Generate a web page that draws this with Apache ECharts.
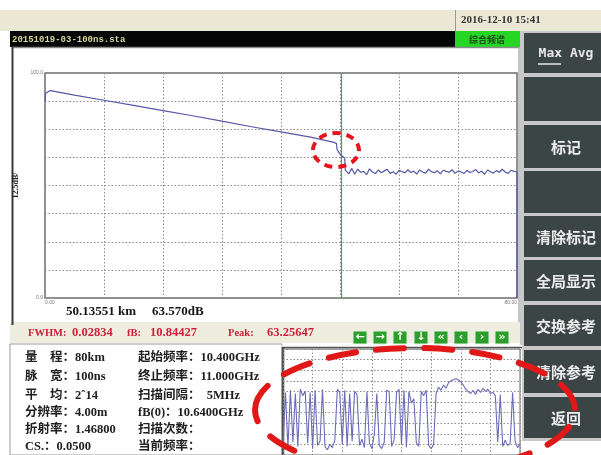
<!DOCTYPE html>
<html><head><meta charset="utf-8">
<script src="https://cdn.jsdelivr.net/npm/echarts/dist/echarts.min.js"></script>
<style>html,body{margin:0;padding:0;background:#fff}#c{width:601px;height:455px}</style>
</head><body><div id="c"></div><script>
// ---- main OTDR-like trace: distance (km) vs level (dB) ----
const traceKm = [0, 0.1, 0.9, 5, 10, 15, 20, 25, 30, 35, 40, 45, 48.8, 49.4, 49.5, 50.1, 50.8, 50.9,
  51, 51.5, 52, 52.5, 53, 53.5, 54, 54.5, 55, 55.5, 56, 56.5, 57, 57.5, 58, 58.5, 59, 59.5,
  60, 60.5, 61, 61.5, 62, 62.5, 63, 63.5, 64, 64.5, 65, 65.5, 66, 66.5, 67, 67.5, 68, 68.5, 69, 69.5,
  70, 70.5, 71, 71.5, 72, 72.5, 73, 73.5, 74, 74.5, 75, 75.5, 76, 76.5, 77, 77.5, 78, 78.5, 79, 79.5,
  80, 80];
const traceDb = [87.5, 91.0, 92.2, 90.2, 87.9, 85.6, 83.3, 81.0, 78.6, 76.1, 73.8, 71.5, 69.3, 68.7, 66.0, 63.6, 62.2, 56.8,
  56.4, 55.2, 57.6, 55.0, 57.3, 55.9, 56.3, 54.8, 57.4, 56.0,
  55.3, 56.9, 55.7, 56.5, 57.2, 55.4, 56.1, 55.0, 56.7, 56.2,
  55.6, 57.0, 55.8, 56.4, 55.1, 56.9, 56.0, 55.5, 57.3, 56.1,
  55.7, 56.6, 55.2, 56.8, 56.3, 55.9, 57.0, 55.4, 56.5, 56.0,
  55.3, 56.7, 55.8, 56.2, 57.1, 55.6, 56.4, 55.0, 56.9, 56.1,
  55.5, 56.6, 55.9, 57.2, 56.0, 55.4, 56.8, 56.3,
  56.1, 0];
const cursorKm = 50.13551;
const xTickLabels = ['0.00', '80.00'];
const yTickLabels = ['0.0', '100.0'];
const yAxisName = '12.5dB/';

// ---- mini spectrum panel (sample index vs level, divisions) ----
const miniValues = [
  1.0, 5.9, 0.7, 6.1, 1.2, 5.8, 0.8, 6.2, 5.6, 6.0,
  1.1, 5.9, 0.6, 6.1, 0.9, 1.3, 6.2, 0.8, 0.5, 1.0,
  0.7, 1.4, 6.2, 5.9, 1.0, 6.1, 0.8, 5.8, 1.3, 6.0,
  5.7, 0.9, 1.5, 0.7, 6.0, 1.1, 0.6, 2.0, 5.8, 0.9,
  0.6, 1.2, 6.1, 6.0, 0.8, 1.4, 5.9, 6.2, 1.0, 6.1,
  0.7, 6.0, 4.9, 5.3, 1.2, 0.8, 6.0, 5.6, 6.1, 0.9,
  0.6, 1.0, 5.8, 6.4, 6.1, 6.6, 6.3, 6.8, 7.0, 7.1,
  7.2, 7.1, 6.9, 6.6, 6.2, 6.0, 5.8, 6.1, 5.7, 6.2,
  5.9, 6.3, 6.0, 6.2, 5.8, 5.9, 5.6, 1.2, 5.7, 0.8,
  1.4, 0.9, 1.1, 5.9, 1.3, 0.7, 1.0];

// ---- UI texts ----
const fileName = '20151019-03-100ns.sta';
const dateText = '2016-12-10 15:41';
const modeText = '综合频谱';
const buttonLabels = ['Max Avg', '', '标记', '', '清除标记', '全局显示', '交换参考', '清除参考', '返回'];
const readoutTexts = ['50.13551 km', '63.570dB'];
const fitLabels = ['FWHM:', 'fB:', 'Peak:'];
const fitValues = ['0.02834', '10.84427', '63.25647'];
const arrowGlyphs = ['←', '→', '↑', '↓', '«', '‹', '›', '»'];
const infoLeft = ['量　程：80km', '脉　宽：100ns', '平　均：2ˆ14', '分辨率：4.00m', '折射率：1.46800', 'CS.：0.0500'];
const infoRight = ['起始频率：10.400GHz', '终止频率：11.000GHz', '扫描间隔：  5MHz', 'fB(0)：10.6400GHz', '扫描次数：', '当前频率：'];

const SERIF = '"Liberation Serif", "Noto Sans CJK SC", serif';
const CJK = '"Noto Sans CJK SC", sans-serif';

const chart = echarts.init(document.getElementById('c'), null, {renderer: 'canvas'});

const g = [];
function rect(x, y, w, h, fill, z, stroke, lw) {
  g.push({type: 'rect', z: z === undefined ? -5 : z, shape: {x, y, width: w, height: h},
    style: {fill: fill, stroke: stroke || null, lineWidth: lw || 0}, silent: true});
}
function line(x1, y1, x2, y2, stroke, lw, z) {
  g.push({type: 'line', z: z === undefined ? -4 : z, shape: {x1, y1, x2, y2},
    style: {stroke, lineWidth: lw}, silent: true});
}
function text(t, x, y, font, fill, align, z) {
  g.push({type: 'text', z: z === undefined ? 5 : z, x, y,
    style: {text: t, font, fill, textAlign: align || 'left', textVerticalAlign: 'middle'}, silent: true});
}

// backgrounds
rect(0, 10, 601, 21, '#ebe8d6', -6);
line(455.5, 10, 455.5, 31, '#9a9a90', 1);
text(dateText, 461, 20.5, 'bold 11px ' + SERIF, '#333');
rect(10, 31, 445, 16, '#050505');
text(fileName, 12, 39.5, 'bold 9px "Liberation Mono", monospace', '#d9d79c');
rect(455, 31, 65, 16, '#25d625');
text(modeText, 487, 39.5, 'bold 9px ' + CJK, '#1f4a1b', 'center');
// main panel
rect(12, 47, 508, 275, '#ffffff', -6);
line(12, 47.5, 520, 47.5, '#8a8a8a', 1.5);
line(12.5, 47, 12.5, 325, '#3a3a3a', 2);
line(519, 47, 519, 322, '#b0b0b0', 1.5);
// right button column
rect(520, 31, 81, 410, '#c9c9c9', -6);
const btnY = [[33, 73], [77, 121], [125, 168], [171, 213], [216, 257], [260, 301], [305, 346], [350, 393], [397, 438]];
btnY.forEach((b, i) => {
  rect(524, b[0], 77, b[1] - b[0], '#3b4546', -5);
  const lab = buttonLabels[i];
  if (!lab) return;
  const cy = (b[0] + b[1]) / 2 + 1;
  if (i === 0) {
    text(lab, 566, 54, 'bold 13px "DejaVu Sans Mono", monospace', '#e8e8e8', 'center');
    line(538, 64, 561, 64, '#e8e8e8', 1.5, 6);
  } else {
    text(lab, 566, cy, 'bold 15px ' + CJK, '#ececec', 'center');
  }
});
// readout
text(readoutTexts[0], 66, 312, 'bold 13px ' + SERIF, '#151515');
text(readoutTexts[1], 152, 312, 'bold 13px ' + SERIF, '#151515');
// fit row
rect(10, 322, 510, 21, '#efede0', -5);
const fitLabelX = [28, 127, 228], fitValueX = [72, 150, 267];
fitLabels.forEach((l, i) => {
  text(l, fitLabelX[i], 333, 'bold 10.5px ' + SERIF, '#d02038');
  text(fitValues[i], fitValueX[i], 333, 'bold 12.5px ' + SERIF, '#d02038');
});
const arrowX = [353, 373, 393, 414, 434, 454, 475, 495];
arrowGlyphs.forEach((a, i) => {
  rect(arrowX[i], 331, 14, 13, '#2c9e2c', 4, '#dff0df', 1);
  text(a, arrowX[i] + 7, 337.5, 'bold 11px "DejaVu Sans", sans-serif', '#ffffff', 'center', 6);
});
// info panel
rect(10, 344, 272, 111, '#ffffff', -5, '#9a9a9a', 1);
const infoY = [358, 377, 396, 413, 430, 447];
infoLeft.forEach((t, i) => text(t, 25, infoY[i], 'bold 12.5px ' + SERIF, '#202020'));
infoRight.forEach((t, i) => text(t, 138, infoY[i], 'bold 12.5px ' + SERIF, '#202020'));
// mini panel
rect(282, 345, 240, 110, '#ffffff', -5);
line(283, 347, 283, 455, '#3a3a3a', 2.5);
line(282, 347.5, 522, 347.5, '#555', 1.5);
// annotations (red dashed)
g.push({type: 'ellipse', z: 50, shape: {cx: 336, cy: 150, rx: 23, ry: 17},
  style: {fill: null, stroke: '#e5151d', lineWidth: 4, lineDash: [8, 6]}, silent: true});
g.push({type: 'ellipse', z: 50, shape: {cx: 415, cy: 410, rx: 160, ry: 62},
  style: {fill: null, stroke: '#e01818', lineWidth: 6, lineDash: [28, 20], lineCap: 'round'}, silent: true});

const dotted = {type: [1.5, 2], color: '#8c8c8c', width: 1};

chart.setOption({
  animation: false,
  graphic: {elements: g},
  grid: [
    {left: 45, top: 73, width: 472, height: 225, show: true, borderColor: '#6f6f6f', borderWidth: 1.5, backgroundColor: 'transparent'},
    {left: 283, top: 349, width: 237, height: 130, show: true, borderColor: '#666', borderWidth: 1, backgroundColor: 'transparent'}
  ],
  xAxis: [
    {gridIndex: 0, type: 'value', min: 0, max: 80, interval: 10,
      axisLine: {show: false}, axisTick: {show: false},
      splitLine: {show: true, lineStyle: dotted},
      axisLabel: {show: true, fontSize: 5, color: '#777', margin: 2, showMinLabel: true, showMaxLabel: true,
        alignMinLabel: 'left', alignMaxLabel: 'right',
        formatter: v => v === 0 ? xTickLabels[0] : (v === 80 ? xTickLabels[1] : '')}},
    {gridIndex: 1, type: 'value', min: 0, max: 96, interval: 12,
      axisLine: {show: false}, axisTick: {show: false}, axisLabel: {show: false},
      splitLine: {show: true, lineStyle: dotted}}
  ],
  yAxis: [
    {gridIndex: 0, type: 'value', min: 0, max: 100, interval: 12.5,
      name: yAxisName, nameLocation: 'middle', nameRotate: 90, nameGap: 23,
      nameTextStyle: {fontSize: 8, fontWeight: 'bold', fontFamily: '"Liberation Serif", serif', color: '#222'},
      axisLine: {show: false}, axisTick: {show: false},
      splitLine: {show: true, lineStyle: dotted},
      axisLabel: {show: true, fontSize: 5, color: '#777', margin: 2,
        formatter: v => v === 0 ? yTickLabels[0] : (v === 100 ? yTickLabels[1] : '')}},
    {gridIndex: 1, type: 'value', min: 0, max: 10, interval: 1,
      axisLine: {show: false}, axisTick: {show: false}, axisLabel: {show: false},
      splitLine: {show: true, lineStyle: dotted}}
  ],
  series: [
    {type: 'line', xAxisIndex: 0, yAxisIndex: 0, showSymbol: false, symbol: 'none', z: 3,
      lineStyle: {color: '#5757a8', width: 1.2},
      data: traceKm.map((k, i) => [k, traceDb[i]]),
      markLine: {silent: true, symbol: ['none', 'none'], label: {show: false}, z: 2,
        lineStyle: {color: '#3fae3f', width: 1.2, type: 'solid', opacity: 1},
        emphasis: {disabled: true},
        data: [{xAxis: cursorKm, lineStyle: {color: '#3fae3f', width: 1.2, type: 'solid'}}]}},
    {type: 'line', xAxisIndex: 1, yAxisIndex: 1, showSymbol: false, symbol: 'none',
      lineStyle: {color: '#6b6bb8', width: 1.1},
      data: miniValues.map((v, i) => [i, v])}
  ]
});
</script></body></html>
